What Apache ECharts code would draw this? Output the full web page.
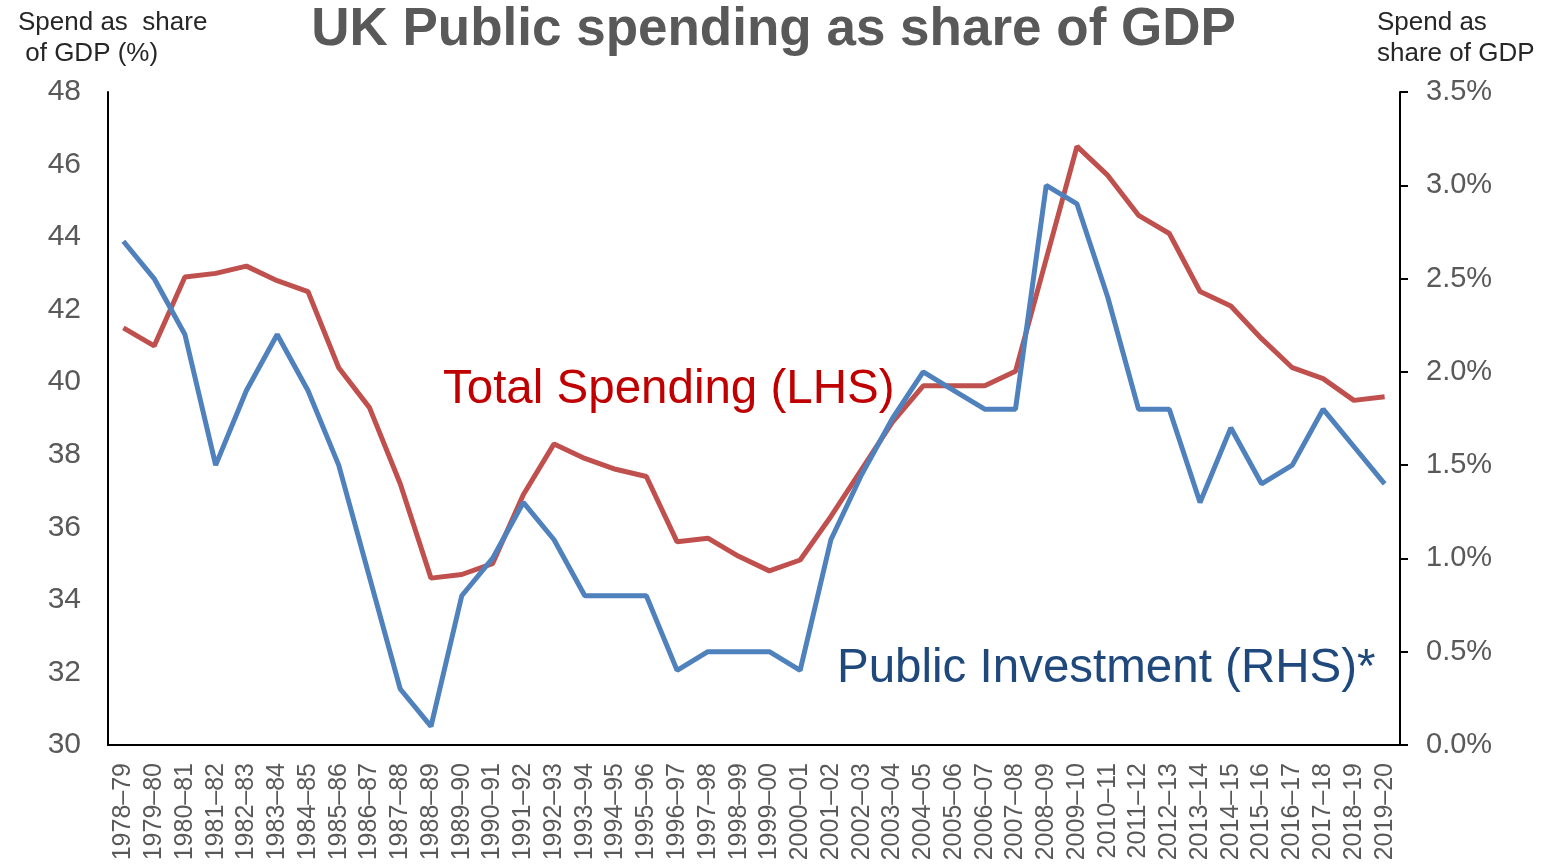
<!DOCTYPE html>
<html>
<head>
<meta charset="utf-8">
<script src="https://cdn.jsdelivr.net/npm/echarts@6/dist/echarts.min.js"></script>
<style>
  html, body { margin: 0; padding: 0; background: #fff; }
  #chart { width: 1547px; height: 866px; }
</style>
</head>
<body>
<div id="chart"></div>
<script>
// Financial years
const years = [
  '1978–79','1979–80','1980–81','1981–82','1982–83','1983–84','1984–85','1985–86',
  '1986–87','1987–88','1988–89','1989–90','1990–91','1991–92','1992–93','1993–94',
  '1994–95','1995–96','1996–97','1997–98','1998–99','1999–00','2000–01','2001–02',
  '2002–03','2003–04','2004–05','2005–06','2006–07','2007–08','2008–09','2009–10',
  '2010–11','2011–12','2012–13','2013–14','2014–15','2015–16','2016–17','2017–18',
  '2018–19','2019–20'
];

// Total public spending, % of GDP (left axis)
const totalSpending = [
  41.5, 41.0, 42.9, 43.0, 43.2, 42.8, 42.5, 40.4,
  39.3, 37.2, 34.6, 34.7, 35.0, 36.9, 38.3, 37.9,
  37.6, 37.4, 35.6, 35.7, 35.2, 34.8, 35.1, 36.3,
  37.6, 38.9, 39.9, 39.9, 39.9, 40.3, 43.4, 46.5,
  45.7, 44.6, 44.1, 42.5, 42.1, 41.2, 40.4, 40.1,
  39.5, 39.6
];

// Public sector net investment, % of GDP (right axis)
const publicInvestment = [
  2.7, 2.5, 2.2, 1.5, 1.9, 2.2, 1.9, 1.5,
  0.9, 0.3, 0.1, 0.8, 1.0, 1.3, 1.1, 0.8,
  0.8, 0.8, 0.4, 0.5, 0.5, 0.5, 0.4, 1.1,
  1.45, 1.75, 2.0, 1.9, 1.8, 1.8, 3.0, 2.9,
  2.4, 1.8, 1.8, 1.3, 1.7, 1.4, 1.5, 1.8,
  1.6, 1.4
];

const FONT = '"Liberation Sans", Arial, sans-serif';
const GREY = '#595959';

const chart = echarts.init(document.getElementById('chart'));
chart.setOption({
  backgroundColor: '#fff',
  animation: false,
  textStyle: { fontFamily: FONT },
  title: [
    {
      text: 'UK Public spending as share of GDP',
      left: 'center', top: -1,
      textStyle: { fontFamily: FONT, fontSize: 53, fontWeight: 'bold', color: GREY }
    },
    {
      text: 'Spend as  share\n of GDP (%)',
      left: 13, top: 2,
      textStyle: { fontFamily: FONT, fontSize: 26, fontWeight: 'normal', color: '#262626', lineHeight: 31 }
    },
    {
      text: 'Spend as\nshare of GDP',
      left: 1372, top: 2,
      textStyle: { fontFamily: FONT, fontSize: 26, fontWeight: 'normal', color: '#262626', lineHeight: 31 }
    },
    {
      text: 'Total Spending (LHS)',
      left: 438, top: 361,
      textStyle: { fontFamily: FONT, fontSize: 47.5, fontWeight: 'normal', color: '#c00000' }
    },
    {
      text: 'Public Investment (RHS)*',
      left: 832, top: 640,
      textStyle: { fontFamily: FONT, fontSize: 47.5, fontWeight: 'normal', color: '#1f497d' }
    }
  ],
  grid: { left: 108, right: 147, top: 92, bottom: 121, containLabel: false },
  xAxis: {
    type: 'category',
    data: years,
    boundaryGap: true,
    axisLine: { lineStyle: { color: '#000', width: 2 } },
    axisTick: { show: false },
    axisLabel: {
      interval: 0, rotate: 90, margin: 18,
      fontFamily: FONT, fontSize: 25, color: GREY
    },
    splitLine: { show: false }
  },
  yAxis: [
    {
      type: 'value', min: 30, max: 48, interval: 2,
      axisLine: { show: true, lineStyle: { color: '#000', width: 2 } },
      axisTick: { show: false },
      axisLabel: { margin: 27, fontFamily: FONT, fontSize: 30, color: GREY },
      splitLine: { show: false }
    },
    {
      type: 'value', min: 0, max: 3.5, interval: 0.5,
      position: 'right',
      axisLine: { show: true, lineStyle: { color: '#000', width: 2 } },
      axisTick: { show: true, inside: false, length: 8, lineStyle: { color: '#000', width: 2 } },
      axisLabel: {
        margin: 26, fontFamily: FONT, fontSize: 29, color: GREY,
        formatter: v => v.toFixed(1) + '%'
      },
      splitLine: { show: false }
    }
  ],
  series: [
    {
      name: 'Total Spending (LHS)',
      type: 'line',
      yAxisIndex: 0,
      data: totalSpending,
      symbol: 'none',
      lineStyle: { color: '#c0504d', width: 5 },
      z: 2
    },
    {
      name: 'Public Investment (RHS)*',
      type: 'line',
      yAxisIndex: 1,
      data: publicInvestment,
      symbol: 'none',
      lineStyle: { color: '#4f81bd', width: 5 },
      z: 3
    }
  ]
});
</script>
</body>
</html>
